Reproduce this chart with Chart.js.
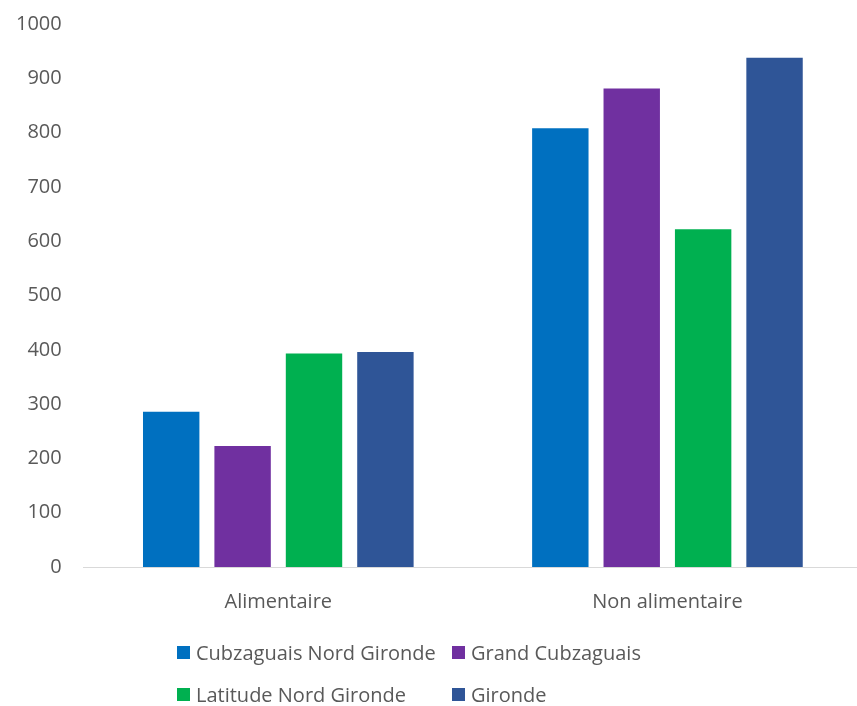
<!DOCTYPE html>
<html lang="fr">
<head>
<meta charset="utf-8">
<script src="https://cdn.jsdelivr.net/npm/chart.js@4.4.1/dist/chart.umd.min.js"></script>
<style>
  html, body { margin: 0; padding: 0; background: #fff; overflow: hidden; }
  #wrap { position: relative; width: 857px; height: 706px; overflow: hidden; }
  #box { position: absolute; left: -22px; top: -10px; width: 884px; height: 658px; }
  #legend {
    position: absolute; left: 177px; top: 640px;
    display: grid; grid-template-columns: 275px auto; row-gap: 18px;
    font-family: "Open Sans", sans-serif; font-size: 20px; color: #595959;
  }
  #legend .it { display: flex; align-items: center; height: 24px; white-space: nowrap; }
  #legend .sw { width: 13px; height: 13px; margin-right: 6px; }
</style>
</head>
<body>
<div id="wrap">
  <div id="box"><canvas id="c"></canvas></div>
  <div id="legend"></div>
</div>
<script>
// données
const categories = ['Alimentaire', 'Non alimentaire']
const seriesNames = ['Cubzaguais Nord Gironde', 'Grand Cubzaguais', 'Latitude Nord Gironde', 'Gironde']
const cubzaguaisNordGironde = [286, 808]
const grandCubzaguais = [223, 881]
const latitudeNordGironde = [393, 622]
const gironde = [396, 938]
const yTicks = [0, 100, 200, 300, 400, 500, 600, 700, 800, 900, 1000]

const colors = ['#0070C0', '#7030A0', '#00B050', '#2F5597']
const values = [cubzaguaisNordGironde, grandCubzaguais, latitudeNordGironde, gironde]

const font = { family: '"Open Sans", sans-serif', size: 20 }

const chart = new Chart(document.getElementById('c').getContext('2d'), {
  type: 'bar',
  data: {
    labels: categories,
    datasets: seriesNames.map((n, i) => ({
      label: n,
      data: values[i],
      backgroundColor: colors[i],
      borderWidth: 0,
      categoryPercentage: 0.734,
      barPercentage: 0.79,
    }))
  },
  options: {
    responsive: true, maintainAspectRatio: false, animation: false,
    layout: { padding: { top: 0, left: 16, right: 0, bottom: 11 } },
    plugins: { legend: { display: false }, tooltip: { enabled: false } },
    scales: {
      x: {
        grid: { display: false, drawTicks: false },
        border: { display: true, color: '#D9D9D9', width: 1 },
        ticks: { color: '#595959', font, padding: 23 }
      },
      y: {
        min: 0, max: 1000,
        afterBuildTicks: s => { s.ticks = yTicks.map(v => ({ value: v })) },
        grid: { display: false, drawTicks: false },
        border: { display: false },
        ticks: { color: '#595959', font, padding: 22, callback: v => String(v) }
      }
    }
  }
})

// légende en HTML (grille à deux colonnes comme l'original)
const lg = document.getElementById('legend')
chart.data.datasets.forEach(ds => {
  const it = document.createElement('div')
  it.className = 'it'
  it.innerHTML = `<span class="sw" style="background:${ds.backgroundColor}"></span><span>${ds.label}</span>`
  lg.appendChild(it)
})
</script>
</body>
</html>
